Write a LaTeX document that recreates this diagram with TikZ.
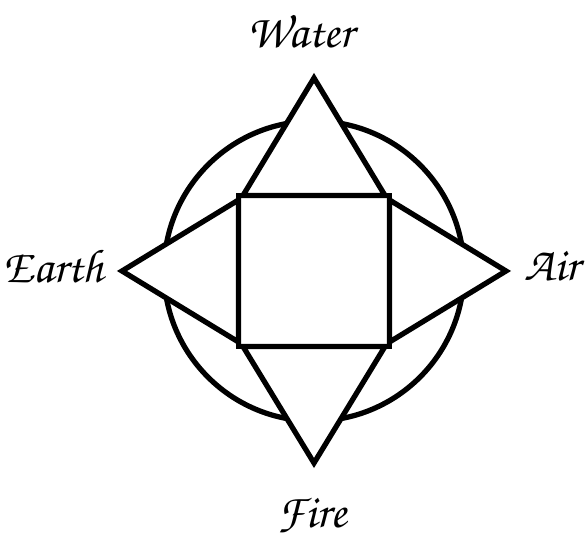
\documentclass[tikz,border=0pt]{standalone}
\usepackage[T1]{fontenc}
\begin{document}
\begin{tikzpicture}[line width=1.5pt, line join=miter,
    element/.style={font=\usefont{T1}{pzc}{mb}{it}\fontsize{13.5}{16}\selectfont, inner sep=0pt}]
    \useasboundingbox (-3.14, 2.71) rectangle (2.72, -2.66);

    % Circle and square
    \draw (0,0) circle (1.50);
    \draw (-0.755,-0.755) rectangle (0.755,0.755);

    % Apexes of the four triangles
    \coordinate (top) at (0, 1.93);
    \coordinate (left) at (-1.92, 0);
    \coordinate (right) at (1.92, 0);
    \coordinate (bottom) at (0, -1.92);

    % Triangles, filled so that they hide the circle
    \filldraw[fill=white] (-0.71, 0.755) -- (top) -- (0.71, 0.755) -- cycle;
    \filldraw[fill=white] (-0.755, 0.71) -- (left) -- (-0.755, -0.71) -- cycle;
    \filldraw[fill=white] (0.755, 0.71) -- (right) -- (0.755, -0.71) -- cycle;
    \filldraw[fill=white] (-0.71, -0.755) -- (bottom) -- (0.71, -0.755) -- cycle;

    % Labels
    \node[element, anchor=base] (water) at (-0.13, 2.23) {Water};
    \node[element, anchor=base east] (earth) at (-2.08, -0.12) {Earth};
    \node[element, anchor=base west] (air) at (2.08, -0.10) {Air};
    \node[element, anchor=base] (fire) at (-0.02, -2.56) {Fire};
\end{tikzpicture}
\end{document}
